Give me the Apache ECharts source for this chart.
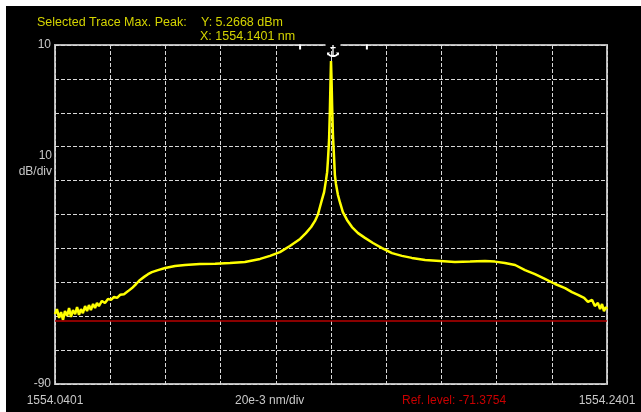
<!DOCTYPE html>
<html>
<head>
<meta charset="utf-8">
<script src="https://cdn.jsdelivr.net/npm/echarts@6/dist/echarts.min.js"></script>
<style>
  html, body { margin: 0; padding: 0; background: #ffffff; }
  #frame { position: absolute; left: 6px; top: 6px; right: 0; bottom: 0; background: #000000; }
  #chart { position: absolute; left: 0; top: 0; width: 641px; height: 412px; }
</style>
</head>
<body>
<div id="frame"></div>
<div id="chart"></div>
<script>
// Spectrum centre and trace: offset from centre (pm) vs power (dBm)
const centerNm = 1554.1401;
const peakDbm = 5.2668;
const refLevel = -71.3754;

const offsetPm = [
  -100.0, -99.3, -98.5, -97.8, -97.1, -96.4, -95.6, -94.9, -94.2, -93.5,
  -92.7, -92.0, -91.3, -90.6, -89.9, -89.1, -88.4, -87.7, -87.0, -86.2,
  -85.5, -84.8, -84.1, -83.0, -81.9, -80.8, -79.7, -78.6, -77.5, -76.4,
  -75.0, -73.5, -72.1, -70.6, -69.2, -67.7, -66.3, -64.9, -62.7, -60.1,
  -56.5, -52.9, -47.5, -42.0, -36.6, -31.2, -25.7, -22.1, -18.5, -14.9,
  -11.2, -9.1, -7.2, -5.8, -4.7, -4.0, -3.3, -2.5, -1.8, -1.4,
  -1.1, -0.7, -0.4, -0.2, 0.0, 0.2, 0.4, 0.7, 1.1, 1.4,
  1.8, 2.5, 3.3, 4.3, 5.8, 7.6, 9.8, 12.3, 15.2, 18.5,
  22.1, 25.7, 29.3, 34.1, 39.5, 44.9, 50.4, 55.8, 59.4, 63.0,
  66.7, 70.3, 73.9, 77.5, 81.2, 84.8, 87.3, 89.5, 91.7, 93.1,
  94.6, 95.6, 96.7, 97.5, 98.2, 98.9, 99.6, 100.0
];

const powerDbm = [
  -69.4, -67.9, -70.5, -68.8, -71.1, -68.5, -69.9, -67.6, -70.2, -68.2,
  -69.4, -67.3, -69.6, -67.9, -69.1, -67.0, -68.5, -66.7, -68.2, -66.4,
  -67.6, -66.1, -67.0, -65.5, -66.1, -64.9, -65.2, -64.3, -64.6, -63.7,
  -63.5, -62.6, -61.7, -60.5, -59.3, -58.4, -57.6, -57.0, -56.4, -55.8,
  -55.2, -54.9, -54.6, -54.5, -54.3, -54.0, -53.1, -52.2, -51.1, -49.3,
  -47.2, -45.5, -43.7, -41.9, -39.9, -37.8, -35.7, -33.4, -29.8, -27.5,
  -23.9, -18.0, -9.2, -1.8, peakDbm, -0.3, -7.7, -16.5, -23.0, -28.3,
  -31.0, -34.2, -36.6, -39.3, -41.6, -43.7, -45.5, -46.9, -48.4, -49.9,
  -51.4, -52.2, -52.8, -53.4, -53.7, -54.0, -53.9, -53.7, -53.9, -54.3,
  -54.9, -56.4, -57.6, -59.0, -60.5, -61.7, -62.9, -63.7, -64.6, -65.8,
  -65.2, -67.0, -66.1, -67.9, -66.4, -68.5, -67.3, -67.9
];

// Marker positions along the top edge (pm from centre)
const markerOffsets = [-11.2, 13.0];

const xMin = -100, xMax = 100, xDiv = 20;
const yMin = -90, yMax = 10, yDiv = 10;

const trace = offsetPm.map((x, i) => [x, powerDbm[i]]);

const anchorPath = 'path://M9,0h2v3h3v2h-3v11c2,0 4,-1 5,-3l-2,-1h5v5l-1,-2c-2,3 -5,4 -8,4c-3,0 -6,-1 -8,-4l-1,2v-5h5l-2,1c1,2 3,3 5,3v-11h-3v-2h3z';

const chart = echarts.init(document.getElementById('chart'), null, { renderer: 'canvas' });

const gridLine = { show: true, lineStyle: { color: '#d8d8d8', width: 1, type: [4, 2] } };
const font = 'Liberation Sans, Arial, sans-serif';

chart.setOption({
  animation: false,
  backgroundColor: 'transparent',
  grid: {
    left: 55, right: 34, top: 45, bottom: 28,
    show: true, borderColor: '#b8b8b8', borderWidth: 2, backgroundColor: 'transparent'
  },
  xAxis: {
    type: 'value', min: xMin, max: xMax, interval: xDiv,
    axisLine: { show: false }, axisTick: { show: false },
    splitLine: gridLine,
    axisLabel: {
      color: '#c8c8c8', fontFamily: font, fontSize: 12, margin: 11,
      showMinLabel: true, showMaxLabel: true,
      formatter: v => (v === xMin || v === xMax) ? (centerNm + v / 1000).toFixed(4) : ''
    }
  },
  yAxis: {
    type: 'value', min: yMin, max: yMax, interval: yDiv,
    axisLine: { show: false }, axisTick: { show: false },
    splitLine: gridLine,
    axisLabel: {
      color: '#c8c8c8', fontFamily: font, fontSize: 12, margin: 4,
      formatter: v => (v === yMin || v === yMax) ? String(v) : ''
    }
  },
  series: [{
    type: 'line',
    data: trace,
    showSymbol: false,
    lineStyle: { color: '#ffff00', width: 2.5 },
    z: 3,
    markLine: {
      silent: true, symbol: 'none', label: { show: false },
      lineStyle: { color: '#b80000', width: 1.5, type: 'solid' },
      data: [{ yAxis: refLevel }]
    },
    markPoint: {
      silent: true, label: { show: false },
      data: [
        // gap in the top border around the peak anchor
        { coord: [0, yMax], symbol: 'rect', symbolSize: [15, 4], symbolOffset: [2, 0],
          itemStyle: { color: '#000000' } },
        { coord: [0, yMax], symbol: anchorPath, symbolSize: [12, 12], symbolOffset: [2, 6],
          itemStyle: { color: '#ffffff' } },
        ...markerOffsets.map(m => ({
          coord: [m, yMax], symbol: 'rect', symbolSize: [2, 5], symbolOffset: [0, 2],
          itemStyle: { color: '#ffffff' }
        }))
      ]
    }
  }],
  graphic: [
    { type: 'text', left: 37, top: 16,
      style: { text: 'Selected Trace Max. Peak:', fill: '#d4d400', font: '12.5px ' + font } },
    { type: 'text', left: 201, top: 16,
      style: { text: 'Y: ' + peakDbm.toFixed(4) + ' dBm', fill: '#d4d400', font: '12.5px ' + font } },
    { type: 'text', left: 200, top: 30,
      style: { text: 'X: ' + centerNm.toFixed(4) + ' nm', fill: '#d4d400', font: '12.5px ' + font } },
    { type: 'text', right: 641 - 52, top: 150,
      style: { text: '10', fill: '#c8c8c8', font: '12px ' + font, textAlign: 'right' } },
    { type: 'text', right: 641 - 52, top: 166,
      style: { text: 'dB/div', fill: '#c8c8c8', font: '12px ' + font, textAlign: 'right' } },
    { type: 'text', left: 235, top: 395,
      style: { text: '20e-3 nm/div', fill: '#c8c8c8', font: '12px ' + font } },
    { type: 'text', left: 402, top: 395,
      style: { text: 'Ref. level: ' + refLevel.toFixed(4), fill: '#c80000', font: '12px ' + font } }
  ]
});
</script>
</body>
</html>
